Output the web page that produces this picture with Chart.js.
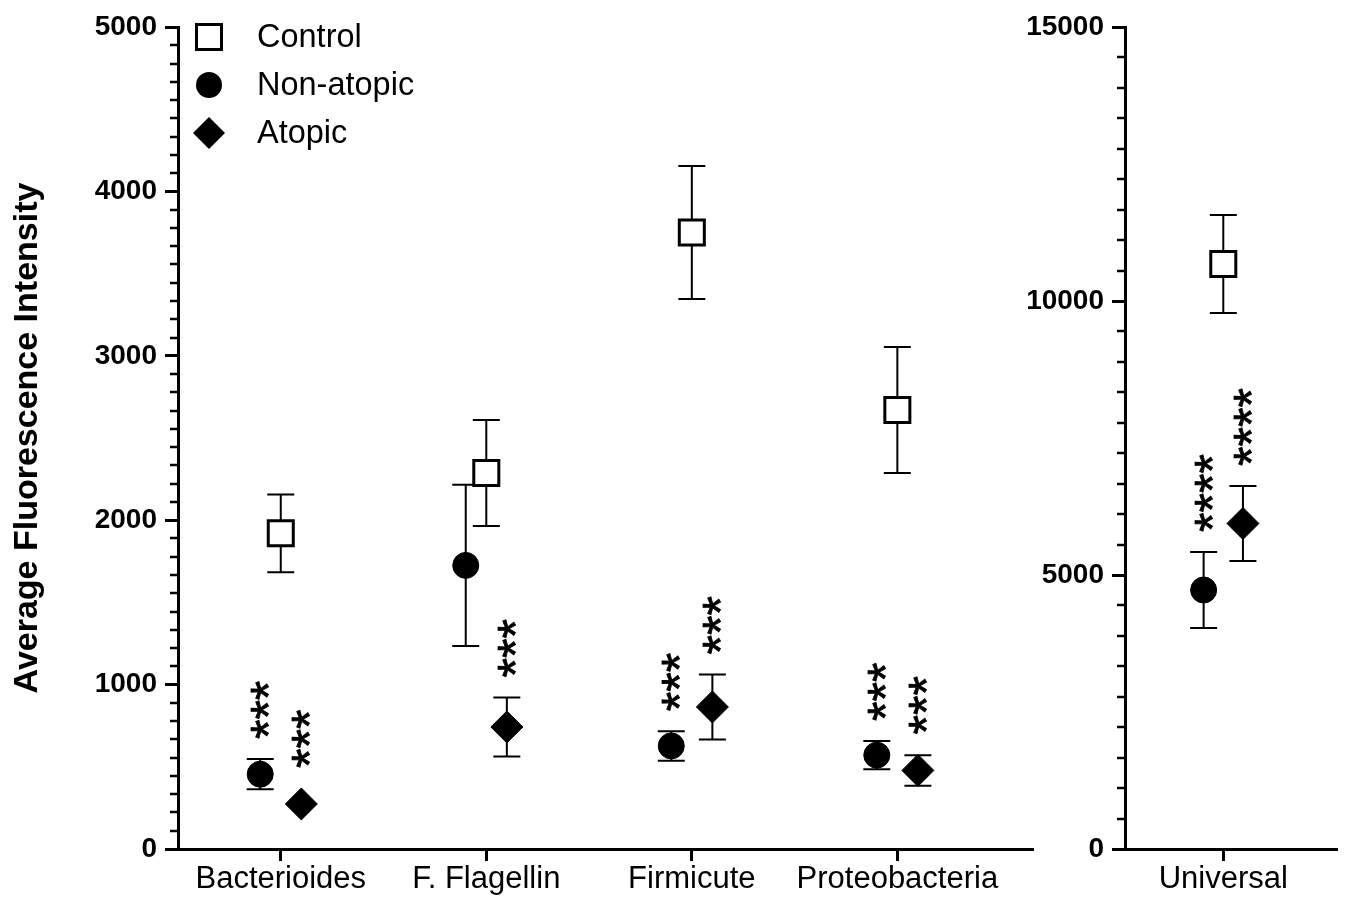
<!DOCTYPE html>
<html><head><meta charset="utf-8">
<script src="https://cdn.jsdelivr.net/npm/chart.js@4/dist/chart.umd.min.js"></script>
<style>
html,body{margin:0;padding:0;background:#fff;}
#wrap{position:relative;width:1358px;height:897px;overflow:hidden;background:#fff;}
#left{position:absolute;left:0;top:0;}
#right{position:absolute;left:1000px;top:0;}
</style></head><body>
<div id="wrap"><canvas id="left" width="1070" height="897"></canvas><canvas id="right" width="358" height="897"></canvas></div>
<script>
// ---------- data ----------
const categories = ['Bacterioides', 'F. Flagellin', 'Firmicute', 'Proteobacteria'];
const seriesNames = ['Control', 'Non-atopic', 'Atopic'];
const controlMean   = [1920, 2287, 3750, 2670];
const controlSem    = [237, 322, 405, 383];
const nonAtopicMean = [455, 1725, 627, 571];
const nonAtopicSem  = [92, 490, 90, 86];
const atopicMean    = [274, 742, 864, 478];
const atopicSem     = [0, 180, 198, 93];
const nonAtopicStars = ['***', '', '***', '***'];
const atopicStars    = ['***', '***', '***', '***'];
const leftYTickLabels = ['0', '1000', '2000', '3000', '4000', '5000'];

const universalCategories = ['Universal'];
const universalControlMean   = [10675];
const universalControlSem    = [894];
const universalNonAtopicMean = [4726];
const universalNonAtopicSem  = [694];
const universalAtopicMean    = [5940];
const universalAtopicSem     = [685];
const universalNonAtopicStars = ['****'];
const universalAtopicStars    = ['****'];
const rightYTickLabels = ['0', '5000', '10000', '15000'];

const yAxisTitle = 'Average Fluorescence Intensity';

// ---------- styles ----------
const FAMILY = '"Liberation Sans", Arial, Helvetica, sans-serif';
Chart.defaults.font.family = FAMILY;
Chart.defaults.color = '#000';
const STY = {
  control:   { pointStyle: 'rect',    radius: 17.7, bg: '#fff', bc: '#000', bw: 3, dx: 0 },
  nonAtopic: { pointStyle: 'circle',  radius: 13,   bg: '#000', bc: '#000', bw: 1, dx: -0.1 },
  atopic:    { pointStyle: 'rectRot', radius: 16,   bg: '#000', bc: '#000', bw: 1, dx: 0.1 }
};

function makeDataset(label, means, sems, stars, st) {
  return {
    label,
    data: means.map((v, i) => ({ x: i + st.dx, y: v })),
    errors: sems,
    stars: stars,
    pointStyle: st.pointStyle,
    pointRadius: st.radius,
    pointHoverRadius: st.radius,
    pointBackgroundColor: st.bg,
    pointBorderColor: st.bc,
    pointBorderWidth: st.bw,
    pointHoverBorderWidth: st.bw,
    showLine: false
  };
}

const errorBarPlugin = {
  id: 'errorBars',
  beforeDatasetsDraw(chart) {
    const ctx = chart.ctx, ys = chart.scales.y;
    ctx.save();
    ctx.strokeStyle = '#000';
    ctx.lineWidth = 2;
    chart.data.datasets.forEach((ds, di) => {
      const meta = chart.getDatasetMeta(di);
      meta.data.forEach((el, i) => {
        const e = ds.errors[i];
        if (!e) return;
        const v = ds.data[i].y;
        const yt = ys.getPixelForValue(v + e), yb = ys.getPixelForValue(v - e);
        const x = el.x, hw = 13.5;
        ctx.beginPath();
        ctx.moveTo(x, yt); ctx.lineTo(x, yb);
        ctx.moveTo(x - hw, yt); ctx.lineTo(x + hw, yt);
        ctx.moveTo(x - hw, yb); ctx.lineTo(x + hw, yb);
        ctx.stroke();
      });
    });
    ctx.restore();
  }
};

const starsPlugin = {
  id: 'stars',
  afterDatasetsDraw(chart) {
    const ctx = chart.ctx, ys = chart.scales.y;
    ctx.save();
    ctx.font = '50px ' + FAMILY;
    ctx.fillStyle = '#000';
    ctx.strokeStyle = '#000';
    ctx.lineWidth = 0.8;
    ctx.textAlign = 'left';
    ctx.textBaseline = 'alphabetic';
    const m = ctx.measureText('*');
    const cy = (m.actualBoundingBoxAscent - m.actualBoundingBoxDescent) / 2;
    chart.data.datasets.forEach((ds, di) => {
      if (!ds.stars) return;
      const meta = chart.getDatasetMeta(di);
      meta.data.forEach((el, i) => {
        const s = ds.stars[i];
        if (!s) return;
        const v = ds.data[i].y, e = ds.errors[i] || 0;
        const top = Math.min(ys.getPixelForValue(v + e), el.y - ds.pointRadius);
        const base = top - 20;
        ctx.save();
        ctx.translate(el.x, base);
        ctx.rotate(-Math.PI / 2);
        ctx.fillText(s, m.actualBoundingBoxLeft, cy);
        ctx.strokeText(s, m.actualBoundingBoxLeft, cy);
        ctx.restore();
      });
    });
    ctx.restore();
  }
};

const minorTickPlugin = {
  id: 'minorTicks',
  afterDraw(chart) {
    const ctx = chart.ctx, ys = chart.scales.y;
    const step = ys.options.ticks.stepSize, n = 9;
    const x = chart.chartArea.left;
    ctx.save();
    ctx.strokeStyle = '#000';
    ctx.lineWidth = 2.5;
    ctx.beginPath();
    for (let v = ys.min; v < ys.max - 1e-6; v += step) {
      for (let k = 1; k < n; k++) {
        const y = Math.round(ys.getPixelForValue(v + k * step / n));
        ctx.moveTo(x - 8, y); ctx.lineTo(x, y);
      }
    }
    ctx.stroke();
    ctx.restore();
  }
};

const legendPlugin = {
  id: 'customLegend',
  afterDraw(chart) {
    const ctx = chart.ctx, a = chart.chartArea;
    const mx = a.left + 31, y0 = a.top + 10, dy = 48;
    ctx.save();
    ctx.font = '32.5px ' + FAMILY;
    ctx.fillStyle = '#000';
    ctx.textBaseline = 'middle';
    ctx.textAlign = 'left';
    seriesNames.forEach((name, k) => {
      const y = y0 + k * dy;
      ctx.beginPath();
      if (k === 0) {
        ctx.rect(mx - 12.5, y - 12.5, 25, 25);
        ctx.fillStyle = '#fff'; ctx.fill();
        ctx.lineWidth = 3; ctx.strokeStyle = '#000'; ctx.stroke();
      } else if (k === 1) {
        ctx.arc(mx, y, 13, 0, Math.PI * 2);
        ctx.fillStyle = '#000'; ctx.fill();
      } else {
        ctx.moveTo(mx, y - 16); ctx.lineTo(mx + 16, y); ctx.lineTo(mx, y + 16); ctx.lineTo(mx - 16, y);
        ctx.closePath();
        ctx.fillStyle = '#000'; ctx.fill();
      }
      ctx.fillStyle = '#000';
      ctx.fillText(name, a.left + 79, y + 1);
    });
    ctx.restore();
  }
};

function yAxis(max, step, labels, width, withTitle) {
  return {
    type: 'linear', position: 'left', min: 0, max: max,
    afterFit(s) { s.width = width; },
    ticks: {
      stepSize: step, padding: 8, color: '#000',
      font: { size: 28, weight: 'bold' },
      callback: (v) => labels[Math.round(v / step)]
    },
    grid: { drawOnChartArea: false, drawTicks: true, tickLength: 13, tickWidth: 3, tickColor: '#000' },
    border: { display: true, color: '#000', width: 3 },
    title: withTitle ? {
      display: true, text: yAxisTitle, color: '#000',
      font: { size: 34, weight: 'bold' }, padding: { top: 7, bottom: 0 }
    } : { display: false }
  };
}

function xAxis(cats, max) {
  return {
    type: 'linear', position: 'bottom', min: -0.5, max: max,
    afterFit(s) { s.height = 48; },
    afterBuildTicks(s) { s.ticks = cats.map((c, i) => ({ value: i })); },
    ticks: {
      autoSkip: false, maxRotation: 0, padding: 0, color: '#000',
      font: { size: 31 },
      callback: (v) => cats[Math.round(v)]
    },
    grid: { drawOnChartArea: false, drawTicks: true, tickLength: 12, tickWidth: 3, tickColor: '#000' },
    border: { display: true, color: '#000', width: 3 }
  };
}

const baseOpts = {
  responsive: false, animation: false, devicePixelRatio: 1,
  plugins: { legend: { display: false }, tooltip: { enabled: false } },
  events: []
};

new Chart(document.getElementById('left'), {
  type: 'scatter',
  data: {
    datasets: [
      makeDataset(seriesNames[0], controlMean, controlSem, null, STY.control),
      makeDataset(seriesNames[1], nonAtopicMean, nonAtopicSem, nonAtopicStars, STY.nonAtopic),
      makeDataset(seriesNames[2], atopicMean, atopicSem, atopicStars, STY.atopic)
    ]
  },
  options: Object.assign({}, baseOpts, {
    layout: { padding: { left: 0, top: 27, right: 37, bottom: 0 } },
    scales: {
      x: xAxis(categories, 3.66),
      y: yAxis(5000, 1000, leftYTickLabels, 178, true)
    }
  }),
  plugins: [errorBarPlugin, starsPlugin, minorTickPlugin, legendPlugin]
});

new Chart(document.getElementById('right'), {
  type: 'scatter',
  data: {
    datasets: [
      makeDataset(seriesNames[0], universalControlMean, universalControlSem, null, STY.control),
      makeDataset(seriesNames[1], universalNonAtopicMean, universalNonAtopicSem, universalNonAtopicStars, STY.nonAtopic),
      makeDataset(seriesNames[2], universalAtopicMean, universalAtopicSem, universalAtopicStars, STY.atopic)
    ]
  },
  options: Object.assign({}, baseOpts, {
    layout: { padding: { left: 0, top: 27, right: 11, bottom: 0 } },
    scales: {
      x: xAxis(universalCategories, 0.58),
      y: yAxis(15000, 5000, rightYTickLabels, 125, false)
    }
  }),
  plugins: [errorBarPlugin, starsPlugin, minorTickPlugin]
});
</script>
</body></html>
